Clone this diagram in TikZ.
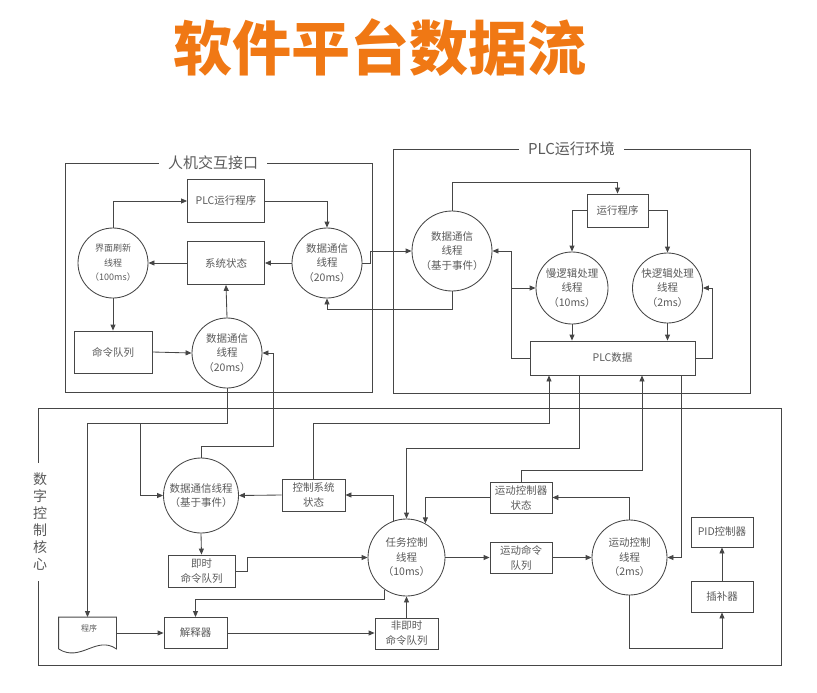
\documentclass[tikz,border=0pt]{standalone}
\usepackage{fontspec}
\setmainfont{Noto Sans CJK SC}
\usetikzlibrary{arrows.meta}

\definecolor{titleorange}{RGB}{240,120,20}
\definecolor{linegray}{RGB}{70,70,70}
\definecolor{textgray}{RGB}{90,90,90}

\tikzset{
  >={Triangle[length=6pt,width=5pt]},
  box/.style={draw, text=textgray, align=center, inner sep=1pt,
    font=\fontsize{10.5}{15}\selectfont},
  thread/.style={circle, draw, text=textgray, align=center, inner sep=0pt,
    font=\fontsize{10.5}{14.5}\selectfont},
  frame/.style={draw},
  frametitle/.style={fill=white, text=textgray, inner xsep=9pt,
    font=\fontsize{15}{18}\selectfont}
}

\begin{document}
\begin{tikzpicture}[x=1pt, y=-1pt, color=linegray, line width=0.85pt]
  \useasboundingbox (0,0) rectangle (817,693);
  \node (title) [text=titleorange, font=\fontsize{59}{62}\selectfont\bfseries] at (380,48) {软件平台数据流};

  \node (hmi) [frame, minimum width=307, minimum height=229] at (218.5,277.5) {};
  \node (hmititle) [frametitle] at (213,163) {人机交互接口};
  \node (plc) [frame, minimum width=357, minimum height=244] at (571.5,271) {};
  \node (plctitle) [frametitle] at (571.5,149) {PLC运行环境};
  \node (nc) [frame, minimum width=743, minimum height=257] at (409.5,536.5) {};
  \node (nctitle) [frametitle, align=center, inner xsep=2pt, inner ysep=10pt,
    font=\fontsize{14}{17}\selectfont] at (40,522) {数\\字\\控\\制\\核\\心};

  \node (ui) [thread, minimum size=70, font=\fontsize{9}{14.5}\selectfont] at (113,263) {界面刷新\\线程\\（100ms）};
  \node (plcprog) [box, minimum width=77, minimum height=43] at (226,201) {PLC运行程序};
  \node (sysstate) [box, minimum width=77, minimum height=43] at (226,263) {系统状态};
  \node (hmicomm) [thread, minimum size=70] at (327,263) {数据通信\\线程\\（20ms）};
  \node (cmdq) [box, minimum width=78, minimum height=42] at (113,352) {命令队列};
  \node (hmicomm2) [thread, minimum size=70] at (227,353) {数据通信\\线程\\（20ms）};

  \node (plccomm) [thread, minimum size=80] at (452,251) {数据通信\\线程\\（基于事件）};
  \node (runprog) [box, minimum width=61, minimum height=33] at (617.5,210.5) {运行程序};
  \node (slow) [thread, minimum size=72] at (572,288) {慢逻辑处理\\线程\\（10ms）};
  \node (fast) [thread, minimum size=70] at (667.5,288) {快逻辑处理\\线程\\（2ms）};
  \node (plcdata) [box, minimum width=165, minimum height=34] at (612.5,358) {PLC数据};

  \node (nccomm) [thread, minimum size=75] at (201,495.5) {数据通信线程\\（基于事件）};
  \node (ctrlstate) [box, minimum width=63, minimum height=32] at (313.5,495) {控制系统\\状态};
  \node (immq) [box, minimum width=67, minimum height=32] at (201.5,571) {即时\\命令队列};
  \node (prog) [minimum width=57, minimum height=31, inner sep=0pt] at (87.5,633) {};
  \node (progtext) [text=textgray, font=\fontsize{8}{8}\selectfont] at (89,628) {程序};
  \node (interp) [box, minimum width=63, minimum height=31] at (195.5,633) {解释器};
  \node (nonimmq) [box, minimum width=63, minimum height=31] at (406.5,633.5) {非即时\\命令队列};
  \node (task) [thread, minimum size=77] at (406.5,557.5) {任务控制\\线程\\（10ms）};
  \node (mstate) [box, minimum width=62, minimum height=31] at (521,497.5) {运动控制器\\状态};
  \node (mcmdq) [box, minimum width=62, minimum height=31] at (521,557.5) {运动命令\\队列};
  \node (motion) [thread, minimum size=75] at (629.5,557.5) {运动控制\\线程\\（2ms）};
  \node (pid) [box, minimum width=62, minimum height=30] at (722,532) {PID控制器};
  \node (interpol) [box, minimum width=62, minimum height=31] at (722,596.5) {插补器};

  \draw (prog.south west) -- (prog.north west) -- (prog.north east) -- (prog.south east)
    .. controls +(-20,-14) and +(22,14) .. (prog.south west);

  \draw[->] (ui.north) |- (plcprog.west);
  \draw[->] (plcprog.east) -| (hmicomm.north);
  \draw[->] (hmicomm.west) -- (sysstate.east);
  \draw[->] (sysstate.west) -- (ui.east);
  \draw[->] (ui.south) -- (cmdq.north);
  \draw[->] (cmdq.east) -- (hmicomm2.west);
  \draw[->] (hmicomm2.north) -- (sysstate.south);

  \draw[->] (hmicomm.east) -- ++(8,0) |- (plccomm.west);
  \draw[->] (plccomm.south) -- ++(0,18) -| (hmicomm.south);

  \draw[->] (plccomm.north) -- ++(0,-28) -| (runprog.north);
  \draw[->] (runprog.west) -| (slow.north);
  \draw[->] (runprog.east) -| (fast.north);
  \draw[->] (slow.south) -- (slow.south |- plcdata.north);
  \draw[->] (fast.south) -- (fast.south |- plcdata.north);
  \draw[->] (plcdata.west) -- ++(-18,0) coordinate (plcback) |- (plccomm.east);
  \draw[->] (plcback |- slow.west) -- (slow.west);
  \draw[->] (plcdata.east) -- ++(17,0) |- (fast.east);

  \draw[->] (ctrlstate.north) -- ++(0,-55) -| ([xshift=-63.5pt]plcdata.south);
  \draw[->] ([xshift=-33.5pt]plcdata.south) -- ++(0,73) -| (task.north);
  \draw[->] (mstate.north) -- ++(0,-11) -| ([xshift=29.5pt]plcdata.south);
  \draw[->] ([xshift=68.5pt]plcdata.south) |- (motion.east);

  \draw[->] (hmicomm2.south) -- ++(0,35) -| (prog.north);
  \coordinate (ncbranch) at (140,423);
  \draw[->] (ncbranch) |- (nccomm.west);
  \draw[->] (nccomm.north) -- ++(0,-11) -- ++(72,0) |- (hmicomm2.east);

  \draw[->] (ctrlstate.west) -- (nccomm.east);
  \draw[->] (nccomm.south) -- (immq.north);
  \draw[->] (immq.east) -- ++(12,0) |- (task.west);
  \draw[->] (task.236) -- ++(0,10) -| (interp.north);
  \draw[->] (prog.east) -- (interp.west);
  \draw[->] (interp.east) -- (interp.east -| nonimmq.west);
  \draw[->] (nonimmq.north) -- (task.south);
  \draw[->] (task.east) -- (mcmdq.west);
  \draw[->] (mcmdq.east) -- (motion.west);
  \draw[->] (motion.north) |- (mstate.east);
  \draw[->] (mstate.west) -| (task.61);
  \draw[->] (task.109) |- (ctrlstate.east);
  \draw[->] (motion.south) -- ++(0,53) -| (interpol.south);
  \draw[->] (interpol.north) -- (pid.south);
\end{tikzpicture}
\end{document}
